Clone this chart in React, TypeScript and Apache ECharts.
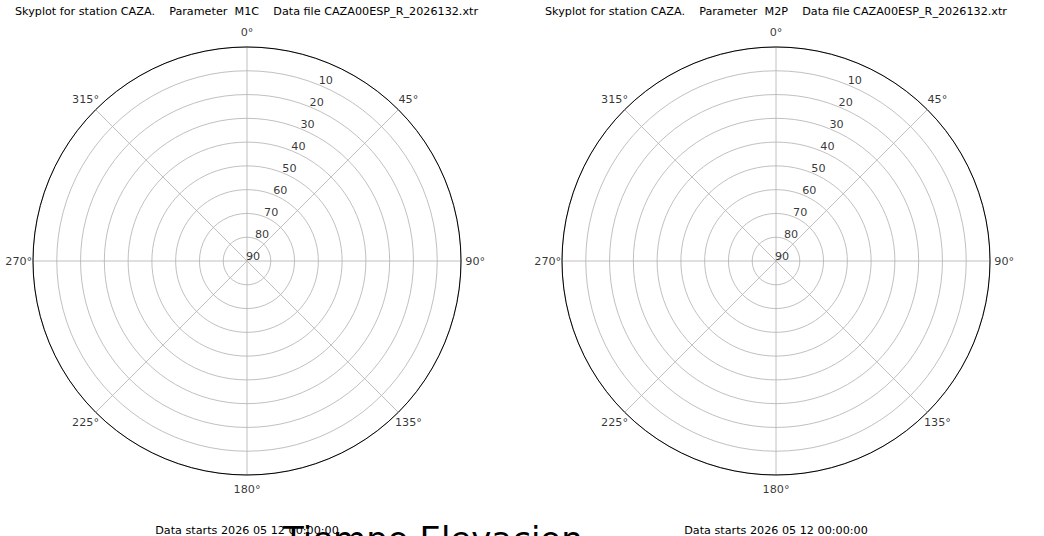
import React, { useEffect, useRef } from "react";
import * as echarts from "echarts";

const stationName = "CAZA";
const dataFile = "CAZA00ESP_R_2026132.xtr";
const parameters = ["M1C", "M2P"];
const dataStart = "2026 05 12 00:00:00";
const bigTitle = "Tiempo Elevacion";
const elevationTicks = [10, 20, 30, 40, 50, 60, 70, 80, 90];
const elevationLabelAzimuth = 22.5;
const azimuthTicks = [0, 45, 90, 135, 180, 225, 270, 315];
const azimuthLabelElevation = -6;
const azimuthStep = 45;

const FONT = "DejaVu Sans";
const GRID = "#b0b0b0";
const FS = 11.2;

export default function App() {
  const ref = useRef<HTMLDivElement>(null);
  useEffect(() => {
    if (!ref.current) return;
    const chart = echarts.init(ref.current, undefined, { renderer: "svg" });
    const centers = [
      [247, 261],
      [776, 261],
    ];
    const titleLefts = [15, 545];
    const txt = { fontWeight: "normal", color: "#000", fontFamily: FONT };
    const option: any = {
      animation: false,
      backgroundColor: "#fff",
      title: [
        ...parameters.map((p, i) => ({
          text: `Skyplot for station ${stationName}.    Parameter  ${p}    Data file ${dataFile}`,
          left: titleLefts[i],
          top: 6,
          padding: 0,
          textStyle: { ...txt, fontSize: FS },
        })),
        ...parameters.map((_, i) => ({
          text: `Data starts ${dataStart}`,
          left: centers[i][0],
          textAlign: "center",
          top: 525,
          padding: 0,
          textStyle: { ...txt, fontSize: FS },
        })),
        {
          text: bigTitle,
          left: 283,
          top: 522,
          padding: 0,
          textStyle: { ...txt, fontSize: 34 },
        },
      ],
      polar: centers.map((c) => ({ center: c, radius: 214 })),
      angleAxis: centers.map((_, i) => ({
        polarIndex: i,
        type: "value",
        min: 0,
        max: 360,
        interval: azimuthStep,
        startAngle: 90,
        clockwise: true,
        axisLine: { show: true, lineStyle: { color: "#000", width: 1 } },
        axisTick: { show: false },
        axisLabel: { show: false },
        splitLine: { show: true, lineStyle: { color: GRID, width: 0.8 } },
      })),
      radiusAxis: centers.map((_, i) => ({
        polarIndex: i,
        type: "value",
        min: 0,
        max: 90,
        interval: 10,
        inverse: true,
        axisLine: { show: false },
        axisTick: { show: false },
        axisLabel: { show: false },
        splitLine: { show: true, lineStyle: { color: GRID, width: 0.8 } },
      })),
      series: [
        ...centers.map((_, i) => ({
          type: "scatter",
          coordinateSystem: "polar",
          polarIndex: i,
          symbolSize: 0,
          silent: true,
          clip: false,
          data: elevationTicks.map((e) => [e, elevationLabelAzimuth]),
          label: {
            show: true,
            position: "inside",
            offset: [6, -5],
            formatter: (p: any) => String(p.value[0]),
            ...txt,
            fontSize: FS,
          },
        })),
        ...centers.map((_, i) => ({
          type: "scatter",
          coordinateSystem: "polar",
          polarIndex: i,
          symbolSize: 0,
          silent: true,
          clip: false,
          data: azimuthTicks.map((a) => [azimuthLabelElevation, a]),
          label: {
            show: true,
            position: "inside",
            formatter: (p: any) => `${p.value[1]}°`,
            ...txt,
            fontSize: FS,
          },
        })),
      ],
    };
    chart.setOption(option);
    return () => chart.dispose();
  }, []);
  return (
    <div
      ref={ref}
      style={{ position: "fixed", left: 0, top: 0, width: 1044, height: 536, background: "#fff" }}
    />
  );
}
